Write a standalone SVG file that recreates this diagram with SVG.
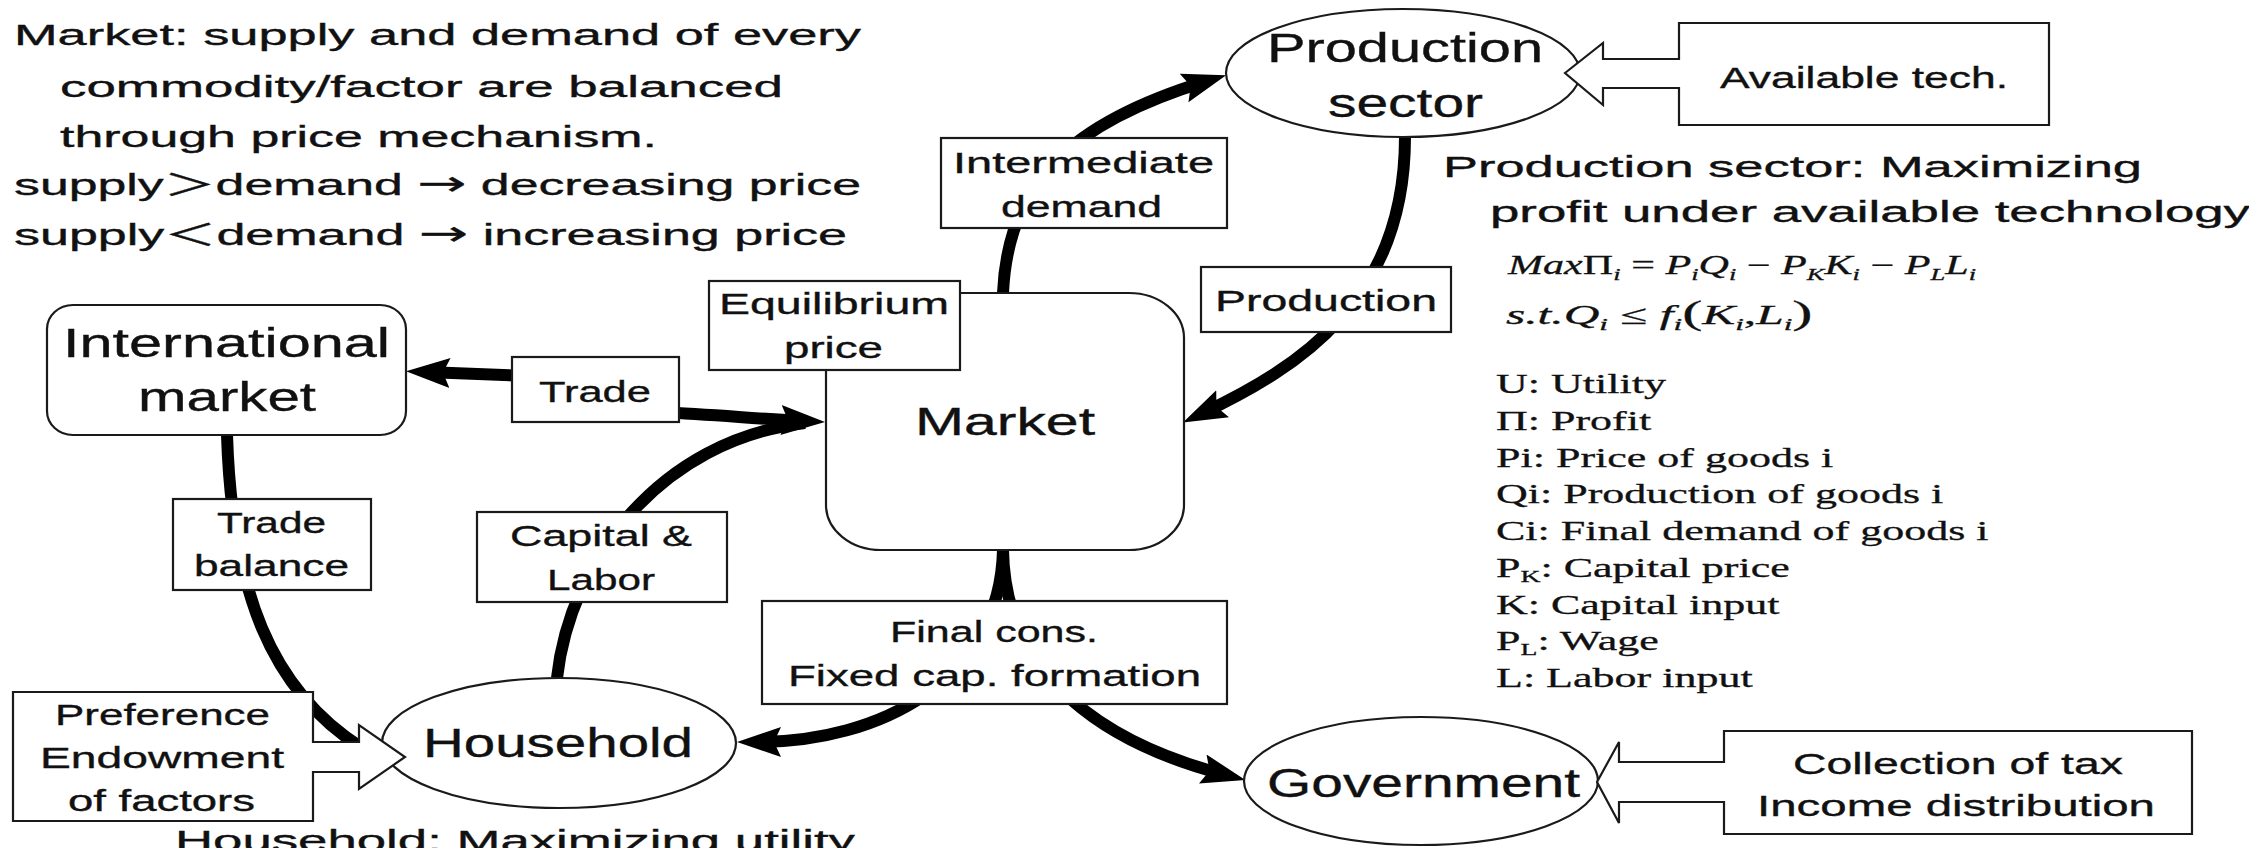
<svg xmlns="http://www.w3.org/2000/svg" width="2249" height="848" viewBox="0 0 2249 848">
  <defs>
    <style>
      .box{fill:#fff;stroke:#1a1a1a;stroke-width:2.2}
      .t{font-family:"Liberation Sans","Noto Sans CJK JP",sans-serif;fill:#111;stroke:#111;stroke-width:0.35}
      .lbl{font-size:30px}
      .nm{font-size:40px}
      .arw{font-family:"DejaVu Sans",sans-serif;font-size:34px}
      .ser{font-family:"Liberation Serif",serif;fill:#111;stroke:#111;stroke-width:0.3;font-size:27px}
      .it{font-style:italic}
      .up{font-style:normal}
      .sb{font-size:17px}
      .flow{fill:none;stroke:#000;stroke-width:12}
    </style>
    <marker id="head" markerUnits="userSpaceOnUse" viewBox="0 0 44 32" markerWidth="44" markerHeight="32" refX="24" refY="16" orient="auto">
      <path d="M0,1 L44,16 L0,31 L7,16 Z" fill="#000"/>
    </marker>
  </defs>
  <rect width="2249" height="848" fill="#fff"/>

  <!-- flows between the sectors -->
  <g id="connectors">
    <path class="flow" d="M1003,293 C1008,180 1073,122 1207,81" marker-end="url(#head)"/>
    <path class="flow" d="M1405,137 C1405,300 1300,367 1201,414" marker-end="url(#head)"/>
    <path class="flow" d="M557,678 C570,560 660,440 805,423"/>
    <path class="flow" d="M660,412 C720,415 760,419 805,421" marker-end="url(#head)"/>
    <path class="flow" d="M530,376 L426,372" marker-end="url(#head)"/>
    <path class="flow" d="M1003,550 C1000,680 880,742 757,742" marker-end="url(#head)"/>
    <path class="flow" d="M1003,550 C1005,680 1110,745 1226,775" marker-end="url(#head)"/>
    <path class="flow" d="M227,435 C232,590 270,690 362,748"/>
  </g>

  <g id="production-sector">
    <ellipse class="box" cx="1403" cy="73" rx="177" ry="64"/>
    <text class="t nm" x="1267" y="62" textLength="276" lengthAdjust="spacingAndGlyphs">Production</text>
    <text class="t nm" x="1328" y="117" textLength="155" lengthAdjust="spacingAndGlyphs">sector</text>
  </g>

  <g id="available-tech">
    <path class="box" d="M1565,73 L1603,43 L1603,59 L1679,59 L1679,23 L2049,23 L2049,125 L1679,125 L1679,88 L1603,88 L1603,105 Z"/>
    <text class="t lbl" x="1720" y="88" textLength="288" lengthAdjust="spacingAndGlyphs">Available tech.</text>
  </g>

  <g id="intermediate-demand">
    <rect class="box" x="941" y="138" width="286" height="90"/>
    <text class="t lbl" x="953" y="173" textLength="261" lengthAdjust="spacingAndGlyphs">Intermediate</text>
    <text class="t lbl" x="1001" y="217" textLength="161" lengthAdjust="spacingAndGlyphs">demand</text>
  </g>

  <g id="market">
    <rect class="box" x="826" y="293" width="358" height="257" rx="55" ry="45"/>
    <text class="t nm" style="font-size:38px" x="915" y="435" textLength="180" lengthAdjust="spacingAndGlyphs">Market</text>
  </g>

  <g id="equilibrium-price">
    <rect class="box" x="709" y="281" width="251" height="89"/>
    <text class="t lbl" x="719" y="314" textLength="230" lengthAdjust="spacingAndGlyphs">Equilibrium</text>
    <text class="t lbl" x="784" y="358" textLength="99" lengthAdjust="spacingAndGlyphs">price</text>
  </g>

  <g id="production">
    <rect class="box" x="1201" y="267" width="250" height="65"/>
    <text class="t lbl" x="1215" y="311" textLength="222" lengthAdjust="spacingAndGlyphs">Production</text>
  </g>

  <g id="international-market">
    <rect class="box" x="47" y="305" width="359" height="130" rx="26" ry="24"/>
    <text class="t nm" x="63" y="357" textLength="327" lengthAdjust="spacingAndGlyphs">International</text>
    <text class="t nm" x="138" y="411" textLength="178" lengthAdjust="spacingAndGlyphs">market</text>
  </g>

  <g id="trade">
    <rect class="box" x="512" y="357" width="167" height="65"/>
    <text class="t lbl" x="539" y="402" textLength="112" lengthAdjust="spacingAndGlyphs">Trade</text>
  </g>

  <g id="trade-balance">
    <rect class="box" x="173" y="499" width="198" height="91"/>
    <text class="t lbl" x="217" y="533" textLength="109" lengthAdjust="spacingAndGlyphs">Trade</text>
    <text class="t lbl" x="194" y="576" textLength="155" lengthAdjust="spacingAndGlyphs">balance</text>
  </g>

  <g id="capital-labor">
    <rect class="box" x="477" y="512" width="250" height="90"/>
    <text class="t lbl" x="510" y="546" textLength="182" lengthAdjust="spacingAndGlyphs">Capital &amp;</text>
    <text class="t lbl" x="547" y="590" textLength="108" lengthAdjust="spacingAndGlyphs">Labor</text>
  </g>

  <g id="final-demand">
    <rect class="box" x="762" y="601" width="465" height="103"/>
    <text class="t lbl" x="890" y="642" textLength="208" lengthAdjust="spacingAndGlyphs">Final cons.</text>
    <text class="t lbl" x="788" y="686" textLength="413" lengthAdjust="spacingAndGlyphs">Fixed cap. formation</text>
  </g>

  <g id="household">
    <ellipse class="box" cx="559" cy="743" rx="177" ry="65"/>
    <text class="t nm" x="423" y="757" textLength="270" lengthAdjust="spacingAndGlyphs">Household</text>
  </g>

  <g id="preference">
    <path class="box" d="M13,692 L313,692 L313,742 L359,742 L359,725 L405,757 L359,789 L359,772 L313,772 L313,821 L13,821 Z"/>
    <text class="t lbl" x="55" y="725" textLength="215" lengthAdjust="spacingAndGlyphs">Preference</text>
    <text class="t lbl" x="40" y="768" textLength="244" lengthAdjust="spacingAndGlyphs">Endowment</text>
    <text class="t lbl" x="68" y="811" textLength="187" lengthAdjust="spacingAndGlyphs">of factors</text>
  </g>

  <g id="government">
    <ellipse class="box" cx="1421" cy="781" rx="177" ry="64"/>
    <text class="t nm" x="1267" y="797" textLength="313" lengthAdjust="spacingAndGlyphs">Government</text>
  </g>

  <g id="tax-income">
    <path class="box" d="M1597,782 L1619,742 L1619,762 L1724,762 L1724,731 L2192,731 L2192,834 L1724,834 L1724,802 L1619,802 L1619,823 Z"/>
    <text class="t lbl" x="1793" y="774" textLength="330" lengthAdjust="spacingAndGlyphs">Collection of tax</text>
    <text class="t lbl" x="1757" y="816" textLength="398" lengthAdjust="spacingAndGlyphs">Income distribution</text>
  </g>

  <!-- market clearing note -->
  <g id="market-note" class="t lbl">
    <text x="14" y="45" textLength="847" lengthAdjust="spacingAndGlyphs">Market: supply and demand of every</text>
    <text x="60" y="97" textLength="723" lengthAdjust="spacingAndGlyphs">commodity/factor are balanced</text>
    <text x="60" y="147" textLength="597" lengthAdjust="spacingAndGlyphs">through price mechanism.</text>
    <text x="14" y="195" textLength="847" lengthAdjust="spacingAndGlyphs">supply＞demand <tspan class="arw">→</tspan> decreasing price</text>
    <text x="14" y="245" textLength="833" lengthAdjust="spacingAndGlyphs">supply＜demand <tspan class="arw">→</tspan> increasing price</text>
  </g>

  <!-- producer problem -->
  <g id="producer-note">
    <text class="t lbl" x="1443" y="177" textLength="699" lengthAdjust="spacingAndGlyphs">Production sector: Maximizing</text>
    <text class="t lbl" x="1490" y="222" textLength="760" lengthAdjust="spacingAndGlyphs">profit under available technology</text>
    <text class="ser it" transform="translate(1508,274) scale(1.56,1)">Max<tspan class="up">Π</tspan><tspan class="sb" dy="6">i</tspan><tspan class="up" dy="-6"> = </tspan>P<tspan class="sb" dy="6">i</tspan><tspan dy="-6">Q</tspan><tspan class="sb" dy="6">i</tspan><tspan class="up" dy="-6"> − </tspan>P<tspan class="sb" dy="6">K</tspan><tspan dy="-6">K</tspan><tspan class="sb" dy="6">i</tspan><tspan class="up" dy="-6"> − </tspan>P<tspan class="sb" dy="6">L</tspan><tspan dy="-6">L</tspan><tspan class="sb" dy="6">i</tspan></text>
    <text class="ser it" transform="translate(1506,324) scale(1.83,1)">s.t.Q<tspan class="sb" dy="6">i</tspan><tspan class="up" dy="-6"> ≤ </tspan>f<tspan class="sb" dy="6">i</tspan><tspan class="up" dy="-6" style="font-size:33px">(</tspan>K<tspan class="sb" dy="6">i</tspan><tspan class="up" dy="-6">,</tspan>L<tspan class="sb" dy="6">i</tspan><tspan class="up" dy="-6" style="font-size:33px">)</tspan></text>
  </g>

  <!-- symbol legend -->
  <g id="legend" class="ser" transform="translate(1496,0) scale(1.63,1)">
    <text x="0" y="393">U: Utility</text>
    <text x="0" y="430">Π: Profit</text>
    <text x="0" y="467">Pi: Price of goods i</text>
    <text x="0" y="503">Qi: Production of goods i</text>
    <text x="0" y="540">Ci: Final demand of goods i</text>
    <text x="0" y="577">P<tspan class="sb" dy="5">K</tspan><tspan dy="-5">: Capital price</tspan></text>
    <text x="0" y="614">K: Capital input</text>
    <text x="0" y="650">P<tspan class="sb" dy="5">L</tspan><tspan dy="-5">: Wage</tspan></text>
    <text x="0" y="687">L: Labor input</text>
  </g>

  <text id="household-note" class="t lbl" x="175" y="851" textLength="680" lengthAdjust="spacingAndGlyphs">Household: Maximizing utility</text>
</svg>
